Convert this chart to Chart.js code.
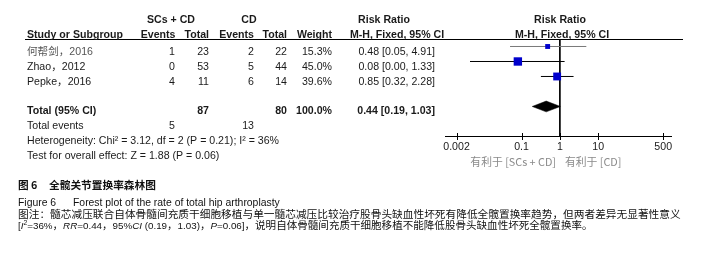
<!DOCTYPE html>
<html><head><meta charset="utf-8">
<script src="https://cdn.jsdelivr.net/npm/chart.js@4.4.0/dist/chart.umd.min.js"></script>
<style>html,body{margin:0;padding:0;background:#fff;overflow:hidden}#wrap{position:relative;width:713px;height:253px}canvas{display:block}</style>
</head><body>
<div id="wrap"><canvas id="c" width="713" height="253"></canvas></div>
<script>
// ---- data ----
const studies = ['何帮剑，2016', 'Zhao，2012', 'Pepke，2016'];
const expEvents = [1, 0, 4];
const expTotal = [23, 53, 11];
const ctlEvents = [2, 5, 6];
const ctlTotal = [22, 44, 14];
const weights = [15.3, 45.0, 39.6];
const riskRatio = [0.48, 0.08, 0.85];
const ciLow = [0.05, 0.0045, 0.32];
const ciHigh = [4.91, 1.33, 2.28];
const rrText = ['0.48 [0.05, 4.91]', '0.08 [0.00, 1.33]', '0.85 [0.32, 2.28]'];
const pooled = [0.44, 0.19, 1.03];              // estimate, low, high
const pooledText = '0.44 [0.19, 1.03]';
const totalN = [87, 80];
const totalWeight = '100.0%';
const totalEvents = [5, 13];
const tickValues = [0.002, 0.1, 1, 10, 500];
const tickLabels = ['0.002', '0.1', '1', '10', '500'];
const heterogeneity = 'Heterogeneity: Chi² = 3.12, df = 2 (P = 0.21); I² = 36%';
const overallTest = 'Test for overall effect: Z = 1.88 (P = 0.06)';
const favourLeft = '有利于 [SCs + CD]';
const favourRight = '有利于 [CD]';

const TOTAL_ROW = 4;
const LAT = "'Liberation Sans', Arial, 'Noto Sans CJK SC', sans-serif";
const CJK = "'Noto Sans CJK SC', 'Liberation Sans', sans-serif";
const FS = 10.6;

const datasets = [];
// CI whiskers
studies.forEach((s, i) => {
  datasets.push({
    type: 'scatter', showLine: true,
    data: [{x: ciLow[i], y: i}, {x: ciHigh[i], y: i}],
    borderColor: i === 0 ? '#7a7a7a' : '#000', borderWidth: 1,
    pointRadius: 0, order: 3
  });
});
// vertical line of no effect
datasets.push({
  type: 'scatter', showLine: true,
  data: [{x: 1, y: -0.5}, {x: 1, y: 5.97}],
  borderColor: '#000', borderWidth: 1, pointRadius: 0, order: 4
});
// study point estimates (square side ~ sqrt(weight))
datasets.push({
  type: 'scatter',
  data: riskRatio.map((v, i) => ({x: v, y: i})),
  pointStyle: 'rect',
  pointRadius: weights.map(w => 1.25 * Math.sqrt(w) / Math.SQRT2),
  backgroundColor: '#0000cc', borderWidth: 0, order: 1
});
// pooled diamond
datasets.push({
  type: 'scatter', showLine: true,
  data: [
    {x: pooled[1], y: TOTAL_ROW}, {x: pooled[0], y: TOTAL_ROW - 0.36},
    {x: pooled[2], y: TOTAL_ROW}, {x: pooled[0], y: TOTAL_ROW + 0.36},
    {x: pooled[1], y: TOTAL_ROW}
  ],
  borderColor: '#000', borderWidth: 0.5, backgroundColor: '#000',
  fill: 'shape', pointRadius: 0, tension: 0, order: 2
});

function txt(ctx, s, x, y, align, bold, color, size, fam, italic) {
  ctx.font = (italic ? 'italic ' : '') + (bold ? 'bold ' : '') + (size || FS) + 'px ' + (fam || LAT);
  ctx.textAlign = align || 'left';
  ctx.textBaseline = 'alphabetic';
  ctx.fillStyle = color || '#1a1a1a';
  ctx.fillText(s, x, y);
}

const tablePlugin = {
  id: 'table',
  afterDraw(chart) {
    const ctx = chart.ctx;
    const xs = chart.scales.x;
    const axisY = chart.chartArea.bottom;
    ctx.save();
    // tick marks crossing the axis
    ctx.strokeStyle = '#000'; ctx.lineWidth = 1;
    xs.ticks.forEach(t => {
      const px = Math.round(xs.getPixelForValue(t.value)) + 0.5;
      ctx.beginPath(); ctx.moveTo(px, axisY - 3); ctx.lineTo(px, axisY + 4); ctx.stroke();
    });
    // header rule
    ctx.beginPath(); ctx.moveTo(25, 39.5); ctx.lineTo(683, 39.5); ctx.stroke();

    // headers
    txt(ctx, 'SCs + CD', 171, 23, 'center', true);
    txt(ctx, 'CD', 249, 23, 'center', true);
    txt(ctx, 'Risk Ratio', 384, 23, 'center', true);
    txt(ctx, 'Risk Ratio', 560, 23, 'center', true);
    txt(ctx, 'Study or Subgroup', 27, 37.5, 'left', true);
    txt(ctx, 'Events', 175.5, 37.5, 'right', true);
    txt(ctx, 'Total', 209, 37.5, 'right', true);
    txt(ctx, 'Events', 254, 37.5, 'right', true);
    txt(ctx, 'Total', 287, 37.5, 'right', true);
    txt(ctx, 'Weight', 332, 37.5, 'right', true);
    txt(ctx, 'M-H, Fixed, 95% CI', 397, 37.5, 'center', true);
    txt(ctx, 'M-H, Fixed, 95% CI', 562, 37.5, 'center', true);

    // study rows
    studies.forEach((s, i) => {
      const b = 55 + 15 * i;
      txt(ctx, s, 27, b, 'left', false, i === 0 ? '#555' : '#1a1a1a');
      txt(ctx, String(expEvents[i]), 175, b, 'right');
      txt(ctx, String(expTotal[i]), 209, b, 'right');
      txt(ctx, String(ctlEvents[i]), 254, b, 'right');
      txt(ctx, String(ctlTotal[i]), 287, b, 'right');
      txt(ctx, weights[i].toFixed(1) + '%', 332, b, 'right');
      txt(ctx, rrText[i], 435, b, 'right');
    });
    // total rows
    const tb = 55 + 15 * TOTAL_ROW - 1;
    txt(ctx, 'Total (95% CI)', 27, tb, 'left', true);
    txt(ctx, String(totalN[0]), 209, tb, 'right', true);
    txt(ctx, String(totalN[1]), 287, tb, 'right', true);
    txt(ctx, totalWeight, 332, tb, 'right', true);
    txt(ctx, pooledText, 435, tb, 'right', true);
    txt(ctx, 'Total events', 27, tb + 15, 'left');
    txt(ctx, String(totalEvents[0]), 175, tb + 15, 'right');
    txt(ctx, String(totalEvents[1]), 254, tb + 15, 'right');
    txt(ctx, heterogeneity, 27, tb + 30, 'left');
    txt(ctx, overallTest, 27, tb + 45, 'left');

    // favours labels
    txt(ctx, favourLeft, 556, 166, 'right', false, '#8a8a8a', 10.8, CJK);
    txt(ctx, favourRight, 565, 166, 'left', false, '#8a8a8a', 10.8, CJK);

    // caption
    txt(ctx, '图 6', 18, 189, 'left', true, '#111', 10.7, CJK);
    txt(ctx, '全髋关节置换率森林图', 49, 189, 'left', true, '#111', 10.7, CJK);
    txt(ctx, 'Figure 6', 18, 205.5, 'left', false, '#111', 10.4, LAT);
    txt(ctx, 'Forest plot of the rate of total hip arthroplasty', 73, 205.5, 'left', false, '#111', 10.4, LAT);
    txt(ctx, '图注：髓芯减压联合自体骨髓间充质干细胞移植与单一髓芯减压比较治疗股骨头缺血性坏死有降低全髋置换率趋势，但两者差异无显著性意义',
        18, 217.5, 'left', false, '#111', 10.7, CJK);
    const segs = [
      ['[', 0], ['I', 1], ['2', 2], ['=36%', 0], ['，', 3], ['RR', 1], ['=0.44', 0], ['，', 3], ['95%', 0], ['CI', 1],
      [' (0.19', 0], ['，', 3], ['1.03)', 0], ['，', 3], ['P', 1], ['=0.06]', 0], ['，说明自体骨髓间充质干细胞移植不能降低股骨头缺血性坏死全髋置换率。', 3]
    ];
    let cx = 18;
    segs.forEach(([s, k]) => {
      let font, y = 229;
      if (k === 0) font = '9.8px ' + LAT;
      else if (k === 1) font = 'italic 9.8px ' + LAT;
      else if (k === 2) { font = '6.8px ' + LAT; y = 224.5; }
      else font = '10.55px ' + CJK;
      ctx.font = font; ctx.textAlign = 'left'; ctx.fillStyle = '#111';
      ctx.fillText(s, cx, y);
      cx += ctx.measureText(s).width;
    });
    ctx.restore();
  }
};

new Chart(document.getElementById('c'), {
  type: 'scatter',
  data: {datasets},
  options: {
    responsive: false, animation: false, devicePixelRatio: 1,
    layout: {padding: {left: 445, right: 42, top: 39, bottom: 87}},
    plugins: {legend: {display: false}, tooltip: {enabled: false}},
    scales: {
      x: {
        type: 'logarithmic', position: 'bottom', min: 0.001, max: 800,
        grid: {display: false, drawTicks: false},
        border: {display: true, color: '#000', width: 1},
        afterBuildTicks: s => { s.ticks = tickValues.map(v => ({value: v})); },
        afterFit: s => { s.height = 30; },
        ticks: {
          autoSkip: false, maxRotation: 0, padding: 5, color: '#1a1a1a',
          font: {family: LAT, size: 10.6},
          callback: v => { const k = tickValues.indexOf(v); return k >= 0 ? tickLabels[k] : ''; }
        }
      },
      y: {type: 'linear', min: -0.5, max: 5.97, reverse: true, display: false}
    }
  },
  plugins: [tablePlugin]
});
</script>
</body></html>
